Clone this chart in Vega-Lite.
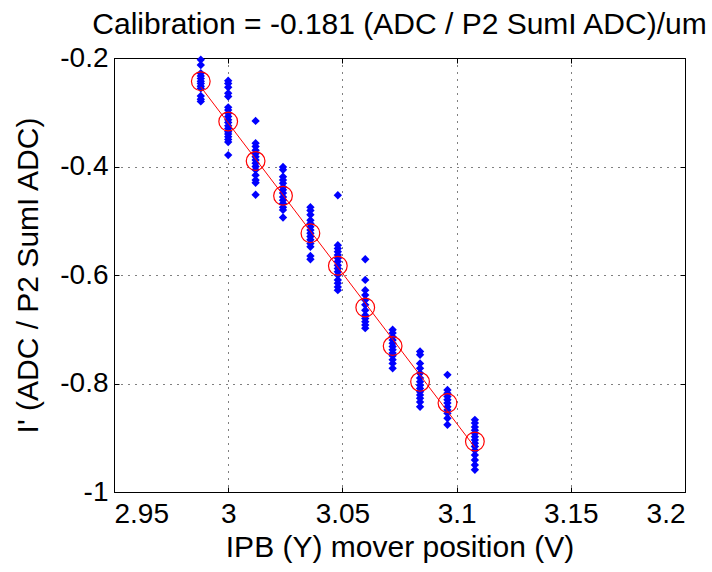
{
  "$schema": "https://vega.github.io/schema/vega-lite/v6.json",
  "width": 571,
  "height": 434,
  "autosize": {"type": "none"},
  "padding": {"left": 114, "top": 58, "right": 27, "bottom": 80},
  "background": "white",
  "config": {
    "font": "Liberation Sans",
    "view": {"stroke": "black", "strokeWidth": 1},
    "axis": {
      "labelFont": "Liberation Sans",
      "titleFont": "Liberation Sans",
      "labelFontSize": 28,
      "titleFontSize": 30,
      "titleFontWeight": "normal",
      "labelColor": "black",
      "titleColor": "black",
      "domainColor": "black",
      "tickColor": "black",
      "tickSize": -5,
      "labelPadding": 10
    }
  },
  "title": {"text": "Calibration = -0.181 (ADC / P2 SumI ADC)/um", "fontSize": 30, "fontWeight": "normal", "color": "black", "font": "Liberation Sans", "anchor": "middle", "offset": 4},
  "resolve": {"axis": {"x": "independent", "y": "independent"}},
  "datasets": {
    "pts": [
      {"x":2.988,"y":-0.203},{"x":2.988,"y":-0.213},{"x":2.988,"y":-0.228},{"x":2.988,"y":-0.233},{"x":2.988,"y":-0.238},{"x":2.988,"y":-0.243},{"x":2.988,"y":-0.247},{"x":2.988,"y":-0.252},{"x":2.988,"y":-0.256},{"x":2.988,"y":-0.270},{"x":2.988,"y":-0.276},{"x":2.988,"y":-0.280},
      {"x":3.0,"y":-0.242},{"x":3.0,"y":-0.247},{"x":3.0,"y":-0.254},{"x":3.0,"y":-0.265},{"x":3.0,"y":-0.271},{"x":3.0,"y":-0.291},{"x":3.0,"y":-0.296},{"x":3.0,"y":-0.302},{"x":3.0,"y":-0.308},{"x":3.0,"y":-0.314},{"x":3.0,"y":-0.319},{"x":3.0,"y":-0.325},{"x":3.0,"y":-0.330},{"x":3.0,"y":-0.336},{"x":3.0,"y":-0.340},{"x":3.0,"y":-0.345},{"x":3.0,"y":-0.350},{"x":3.0,"y":-0.355},{"x":3.0,"y":-0.379},
      {"x":3.012,"y":-0.316},{"x":3.012,"y":-0.357},{"x":3.012,"y":-0.363},{"x":3.012,"y":-0.370},{"x":3.012,"y":-0.376},{"x":3.012,"y":-0.382},{"x":3.012,"y":-0.388},{"x":3.012,"y":-0.394},{"x":3.012,"y":-0.400},{"x":3.012,"y":-0.406},{"x":3.012,"y":-0.416},{"x":3.012,"y":-0.425},{"x":3.012,"y":-0.430},{"x":3.012,"y":-0.452},
      {"x":3.024,"y":-0.401},{"x":3.024,"y":-0.406},{"x":3.024,"y":-0.419},{"x":3.024,"y":-0.425},{"x":3.024,"y":-0.431},{"x":3.024,"y":-0.438},{"x":3.024,"y":-0.443},{"x":3.024,"y":-0.449},{"x":3.024,"y":-0.456},{"x":3.024,"y":-0.462},{"x":3.024,"y":-0.468},{"x":3.024,"y":-0.475},{"x":3.024,"y":-0.480},{"x":3.024,"y":-0.494},
      {"x":3.036,"y":-0.475},{"x":3.036,"y":-0.481},{"x":3.036,"y":-0.489},{"x":3.036,"y":-0.499},{"x":3.036,"y":-0.505},{"x":3.036,"y":-0.511},{"x":3.036,"y":-0.517},{"x":3.036,"y":-0.523},{"x":3.036,"y":-0.529},{"x":3.036,"y":-0.535},{"x":3.036,"y":-0.542},{"x":3.036,"y":-0.548},{"x":3.036,"y":-0.565},{"x":3.036,"y":-0.571},
      {"x":3.048,"y":-0.453},{"x":3.048,"y":-0.545},{"x":3.048,"y":-0.551},{"x":3.048,"y":-0.557},{"x":3.048,"y":-0.563},{"x":3.048,"y":-0.569},{"x":3.048,"y":-0.575},{"x":3.048,"y":-0.582},{"x":3.048,"y":-0.588},{"x":3.048,"y":-0.594},{"x":3.048,"y":-0.600},{"x":3.048,"y":-0.609},{"x":3.048,"y":-0.615},{"x":3.048,"y":-0.622},{"x":3.048,"y":-0.628},
      {"x":3.06,"y":-0.571},{"x":3.06,"y":-0.609},{"x":3.06,"y":-0.628},{"x":3.06,"y":-0.637},{"x":3.06,"y":-0.646},{"x":3.06,"y":-0.655},{"x":3.06,"y":-0.665},{"x":3.06,"y":-0.674},{"x":3.06,"y":-0.680},{"x":3.06,"y":-0.686},{"x":3.06,"y":-0.692},{"x":3.06,"y":-0.698},
      {"x":3.072,"y":-0.701},{"x":3.072,"y":-0.707},{"x":3.072,"y":-0.714},{"x":3.072,"y":-0.720},{"x":3.072,"y":-0.726},{"x":3.072,"y":-0.732},{"x":3.072,"y":-0.738},{"x":3.072,"y":-0.744},{"x":3.072,"y":-0.749},{"x":3.072,"y":-0.756},{"x":3.072,"y":-0.763},{"x":3.072,"y":-0.772},
      {"x":3.084,"y":-0.741},{"x":3.084,"y":-0.747},{"x":3.084,"y":-0.763},{"x":3.084,"y":-0.772},{"x":3.084,"y":-0.781},{"x":3.084,"y":-0.790},{"x":3.084,"y":-0.797},{"x":3.084,"y":-0.803},{"x":3.084,"y":-0.809},{"x":3.084,"y":-0.815},{"x":3.084,"y":-0.821},{"x":3.084,"y":-0.827},{"x":3.084,"y":-0.834},{"x":3.084,"y":-0.843},
      {"x":3.096,"y":-0.784},{"x":3.096,"y":-0.812},{"x":3.096,"y":-0.818},{"x":3.096,"y":-0.824},{"x":3.096,"y":-0.830},{"x":3.096,"y":-0.836},{"x":3.096,"y":-0.843},{"x":3.096,"y":-0.849},{"x":3.096,"y":-0.855},{"x":3.096,"y":-0.864},{"x":3.096,"y":-0.876},
      {"x":3.108,"y":-0.867},{"x":3.108,"y":-0.873},{"x":3.108,"y":-0.880},{"x":3.108,"y":-0.886},{"x":3.108,"y":-0.892},{"x":3.108,"y":-0.898},{"x":3.108,"y":-0.904},{"x":3.108,"y":-0.910},{"x":3.108,"y":-0.916},{"x":3.108,"y":-0.923},{"x":3.108,"y":-0.932},{"x":3.108,"y":-0.941},{"x":3.108,"y":-0.950},{"x":3.108,"y":-0.959}
    ],
    "means": [
      {"x":2.988,"y":-0.243},{"x":3.0,"y":-0.317},{"x":3.012,"y":-0.390},{"x":3.024,"y":-0.454},{"x":3.036,"y":-0.523},{"x":3.048,"y":-0.583},{"x":3.06,"y":-0.660},{"x":3.072,"y":-0.731},{"x":3.084,"y":-0.797},{"x":3.096,"y":-0.836},{"x":3.108,"y":-0.907}
    ],
    "fit": [
      {"x":2.988,"y":-0.2533},{"x":3.108,"y":-0.9177}
    ]
  },
  "layer": [
    {
      "data": {"name": "pts"},
      "mark": {"type": "point", "shape": "diamond", "filled": true, "color": "#0000FF", "size": 70, "opacity": 1},
      "encoding": {
        "x": {"field": "x", "type": "quantitative", "scale": {"domain": [2.95, 3.2], "nice": false, "zero": false},
          "axis": {"orient": "bottom", "values": [2.95, 3, 3.05, 3.1, 3.15, 3.2], "labelExpr": "replace(format(datum.value, '~g'), '\u2212', '-')", "labelPadding": 13, "title": "IPB (Y) mover position (V)", "titlePadding": 4, "grid": true, "gridColor": "black", "gridDash": [1, 6], "gridOpacity": 1, "gridWidth": 1}},
        "y": {"field": "y", "type": "quantitative", "scale": {"domain": [-1, -0.2], "nice": false, "zero": false},
          "axis": {"orient": "left", "values": [-1, -0.8, -0.6, -0.4, -0.2], "labelExpr": "replace(format(datum.value, '~g'), '\u2212', '-')", "labelPadding": 11, "title": "I' (ADC / P2 SumI ADC)", "titlePadding": 16, "grid": true, "gridColor": "black", "gridDash": [1, 6], "gridOpacity": 1, "gridWidth": 1}}
      }
    },
    {
      "data": {"name": "fit"},
      "mark": {"type": "line", "color": "#FF0000", "strokeWidth": 1},
      "encoding": {
        "x": {"field": "x", "type": "quantitative", "axis": {"orient": "top", "values": [2.95, 3, 3.05, 3.1, 3.15, 3.2], "labels": false, "title": null, "domain": false, "grid": false}},
        "y": {"field": "y", "type": "quantitative", "axis": {"orient": "right", "values": [-1, -0.8, -0.6, -0.4, -0.2], "labels": false, "title": null, "domain": false, "grid": false}}
      }
    },
    {
      "data": {"name": "means"},
      "mark": {"type": "point", "shape": "circle", "filled": false, "color": "#FF0000", "size": 350, "strokeWidth": 1.2, "opacity": 1},
      "encoding": {
        "x": {"field": "x", "type": "quantitative", "axis": null},
        "y": {"field": "y", "type": "quantitative", "axis": null}
      }
    }
  ]
}
